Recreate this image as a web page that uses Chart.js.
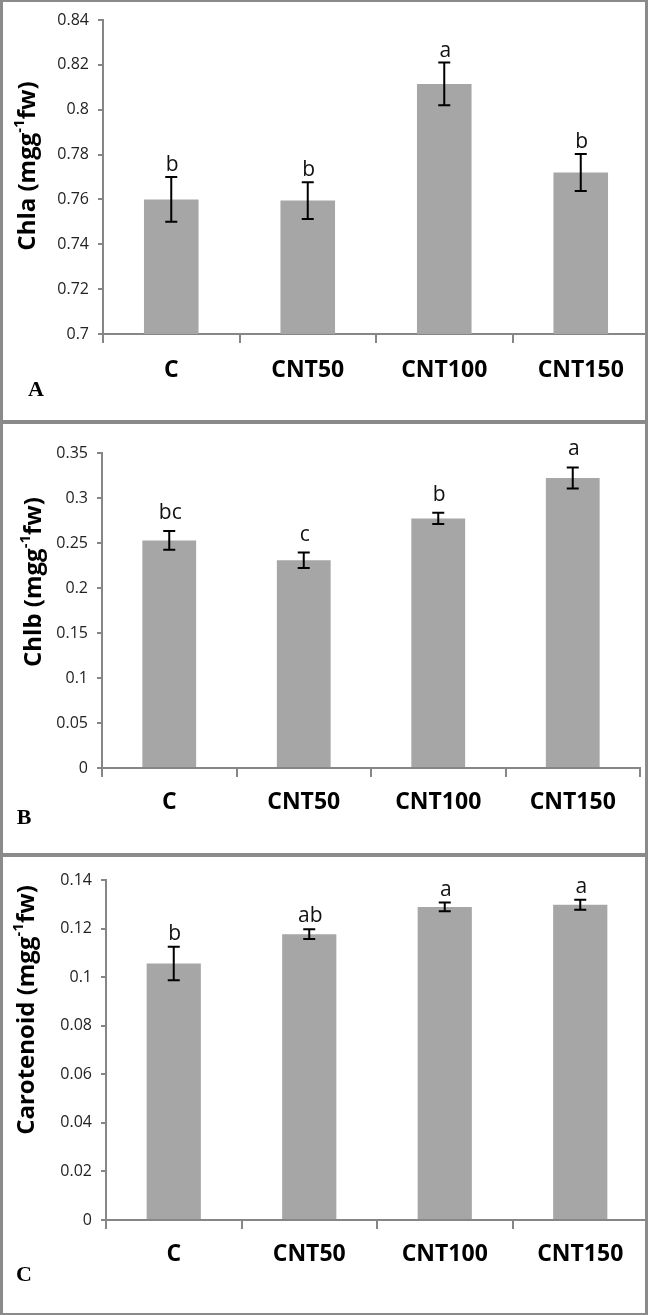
<!DOCTYPE html>
<html>
<head>
<meta charset="utf-8">
<script src="https://cdn.jsdelivr.net/npm/chart.js@4"></script>
<style>
  html, body { margin: 0; padding: 0; background: #fff; }
  body { width: 648px; height: 1315px; overflow: hidden; position: relative; }
  .panel {
    position: absolute; left: 0; width: 648px; box-sizing: border-box;
    border-style: solid; border-color: #8a8a8a; border-width: 2px 3px 2px 3px;
    overflow: hidden; background: #fff;
  }
  .panel canvas { position: absolute; left: -3px; top: -2px; }
</style>
</head>
<body>
<div class="panel" style="top:0;height:422px"><canvas id="chartA" width="660" height="422"></canvas></div>
<div class="panel" style="top:422px;height:433px"><canvas id="chartB" width="660" height="433"></canvas></div>
<div class="panel" style="top:855px;height:460px"><canvas id="chartC" width="660" height="460"></canvas></div>
<script>
// treatments
const categories = ['C', 'CNT50', 'CNT100', 'CNT150'];

// A - chlorophyll a
const chlA = [0.760, 0.7595, 0.8115, 0.772];
const chlAErr = [0.010, 0.0082, 0.0095, 0.0082];
const chlALetters = ['b', 'b', 'a', 'b'];
const chlATicks = [0.7, 0.72, 0.74, 0.76, 0.78, 0.8, 0.82, 0.84];

// B - chlorophyll b
const chlB = [0.2528, 0.2308, 0.2773, 0.3222];
const chlBErr = [0.0104, 0.0086, 0.0062, 0.0117];
const chlBLetters = ['bc', 'c', 'b', 'a'];
const chlBTicks = [0, 0.05, 0.1, 0.15, 0.2, 0.25, 0.3, 0.35];

// C - carotenoid
const carot = [0.1056, 0.1177, 0.1289, 0.1298];
const carotErr = [0.0069, 0.002, 0.0018, 0.0021];
const carotLetters = ['b', 'ab', 'a', 'a'];
const carotTicks = [0, 0.02, 0.04, 0.06, 0.08, 0.1, 0.12, 0.14];

const BAR = '#a6a6a6';
const AXIS = '#868686';
const FONT = '"Open Sans", "DejaVu Sans", sans-serif';

// error bars, significance letters, rotated y title with superscript, panel tag
const extras = {
  id: 'extras',
  afterDatasetsDraw(chart, args, opts) {
    const ctx = chart.ctx;
    const y = chart.scales.y;
    const meta = chart.getDatasetMeta(0);
    ctx.save();
    meta.data.forEach((bar, i) => {
      const v = opts.values[i], e = opts.errors[i];
      const top = y.getPixelForValue(v + e);
      const bot = y.getPixelForValue(v - e);
      ctx.strokeStyle = '#000';
      ctx.lineWidth = 2;
      ctx.beginPath();
      ctx.moveTo(bar.x, top); ctx.lineTo(bar.x, bot);
      ctx.moveTo(bar.x - 6, top); ctx.lineTo(bar.x + 6, top);
      ctx.moveTo(bar.x - 6, bot); ctx.lineTo(bar.x + 6, bot);
      ctx.stroke();

      ctx.fillStyle = '#111';
      ctx.font = '21px ' + FONT;
      ctx.textAlign = 'center';
      ctx.textBaseline = 'alphabetic';
      ctx.fillText(opts.letters[i], bar.x + 1, top - opts.letterGap);
    });

    // y axis title
    const size = 24;
    const parts = opts.title;
    ctx.translate(opts.titleX, opts.titleY);
    ctx.rotate(-Math.PI / 2);
    ctx.textAlign = 'left';
    ctx.textBaseline = 'middle';
    ctx.fillStyle = '#000';
    const fMain = 'bold ' + size + 'px ' + FONT;
    const fSup = 'bold ' + Math.round(size * 0.62) + 'px ' + FONT;
    ctx.font = fMain; const w0 = ctx.measureText(parts[0]).width;
    ctx.font = fSup; const w1 = ctx.measureText(parts[1]).width;
    ctx.font = fMain; const w2 = ctx.measureText(parts[2]).width;
    let x = -(w0 + w1 + w2) / 2;
    ctx.font = fMain; ctx.fillText(parts[0], x, 0); x += w0;
    ctx.font = fSup; ctx.fillText(parts[1], x, -size * 0.33); x += w1;
    ctx.font = fMain; ctx.fillText(parts[2], x, 0);
    ctx.restore();

    // panel tag
    ctx.save();
    ctx.font = 'bold 22px "Liberation Serif", "Times New Roman", serif';
    ctx.fillStyle = '#000';
    ctx.textAlign = 'center';
    ctx.textBaseline = 'middle';
    ctx.fillText(opts.tag, opts.tagX, opts.tagY);
    ctx.restore();
  }
};

function makeChart(id, cfg) {
  const W = 660;
  new Chart(document.getElementById(id), {
    type: 'bar',
    data: {
      labels: categories,
      datasets: [{
        data: cfg.values,
        backgroundColor: BAR,
        borderWidth: 0,
        barPercentage: 0.4,
        categoryPercentage: 1.0
      }]
    },
    options: {
      responsive: false,
      animation: false,
      events: [],
      layout: { padding: { top: cfg.area.top, right: W - cfg.area.right, left: 0, bottom: 0 } },
      plugins: {
        legend: { display: false },
        tooltip: { enabled: false },
        extras: cfg
      },
      scales: {
        x: {
          grid: { drawOnChartArea: false, offset: true, color: AXIS, lineWidth: 2, tickLength: 9 },
          border: { color: AXIS, width: 2 },
          ticks: { color: '#000', font: { family: FONT, size: 23, weight: 'bold' }, padding: cfg.xPad, maxRotation: 0 },
          afterFit: (s) => { s.height = cfg.height - cfg.area.bottom; }
        },
        y: {
          min: cfg.ticks[0],
          max: cfg.ticks[cfg.ticks.length - 1],
          beginAtZero: false,
          afterBuildTicks: (s) => { s.ticks = cfg.ticks.map((v) => ({ value: v })); },
          grid: { drawOnChartArea: false, color: AXIS, lineWidth: 2, tickLength: 5 },
          border: { color: AXIS, width: 2 },
          ticks: {
            color: '#222', font: { family: FONT, size: 16 }, padding: 9,
            callback: (v) => String(+Number(v).toFixed(4))
          },
          afterFit: (s) => { s.width = cfg.area.left; }
        }
      }
    },
    plugins: [extras]
  });
}

makeChart('chartA', {
  values: chlA, errors: chlAErr, letters: chlALetters, ticks: chlATicks,
  title: ['Chla (mgg', '-1', 'fw)'], titleX: 28, titleY: 166,
  tag: 'A', tagX: 36, tagY: 390, letterGap: 6, xPad: 14,
  height: 422, area: { top: 20, bottom: 334, left: 103, right: 649 }
});
makeChart('chartB', {
  values: chlB, errors: chlBErr, letters: chlBLetters, ticks: chlBTicks,
  title: ['Chlb (mgg', '-1', 'fw)'], titleX: 34, titleY: 160,
  tag: 'B', tagX: 24, tagY: 396, letterGap: 12, xPad: 12,
  height: 433, area: { top: 31, bottom: 346, left: 102, right: 640 }
});
makeChart('chartC', {
  values: carot, errors: carotErr, letters: carotLetters, ticks: carotTicks,
  title: ['Carotenoid (mgg', '-1', 'fw)'], titleX: 27, titleY: 155,
  tag: 'C', tagX: 24, tagY: 420, letterGap: 7, xPad: 12,
  height: 460, area: { top: 25, bottom: 365, left: 106, right: 648 }
});
</script>
</body>
</html>
